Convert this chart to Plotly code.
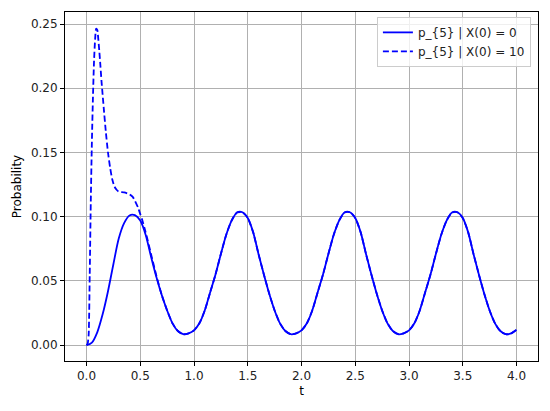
import plotly.graph_objects as go

# ---- data ----
t_solid = [round(i * 0.05, 2) for i in range(81)]
p_solid = [
    0.0, 0.002, 0.010, 0.024, 0.042, 0.063, 0.083, 0.095, 0.1010, 0.1012,
    0.097, 0.086, 0.069, 0.053, 0.039, 0.027, 0.017, 0.011, 0.0085, 0.0092,
    0.0115, 0.017, 0.027, 0.041, 0.055, 0.071, 0.086, 0.097, 0.1033, 0.1035,
    0.099, 0.088, 0.071, 0.055, 0.040, 0.027, 0.017, 0.011, 0.0085, 0.0092,
    0.0115, 0.017, 0.027, 0.041, 0.055, 0.071, 0.086, 0.097, 0.1033, 0.1035,
    0.099, 0.088, 0.071, 0.055, 0.040, 0.027, 0.017, 0.011, 0.0085, 0.0092,
    0.0115, 0.017, 0.027, 0.041, 0.055, 0.071, 0.086, 0.097, 0.1033, 0.1035,
    0.099, 0.088, 0.071, 0.055, 0.040, 0.027, 0.017, 0.011, 0.0085, 0.0092,
    0.0120,
]

t_dash_early = [0.0, 0.01, 0.02, 0.03, 0.04, 0.05, 0.06, 0.07, 0.08, 0.09,
                0.10, 0.11, 0.12, 0.13, 0.14, 0.15, 0.16, 0.18, 0.20, 0.22,
                0.24, 0.26, 0.28, 0.30, 0.35, 0.40, 0.43, 0.45, 0.48, 0.50,
                0.52, 0.55, 0.60, 0.65]
p_dash_early = [0.0, 0.001, 0.008, 0.055, 0.112, 0.158, 0.193, 0.221, 0.238, 0.2465,
                0.2455, 0.238, 0.228, 0.217, 0.205, 0.195, 0.185, 0.166, 0.150, 0.138,
                0.129, 0.1235, 0.121, 0.1195, 0.119, 0.1175, 0.1155, 0.1125, 0.107, 0.102,
                0.097, 0.088, 0.071, 0.054]

# after t = 0.65 the dashed curve coincides with the solid one
t_dash = t_dash_early + [t for t in t_solid if t > 0.66]
p_dash = p_dash_early + [p for t, p in zip(t_solid, p_solid) if t > 0.66]

x_ticks = [0.0, 0.5, 1.0, 1.5, 2.0, 2.5, 3.0, 3.5, 4.0]
y_ticks = [0.00, 0.05, 0.10, 0.15, 0.20, 0.25]

label_solid = "p_{5} | X(0) = 0"
label_dash = "p_{5} | X(0) = 10"

fig = go.Figure()
fig.add_trace(go.Scatter(x=t_solid, y=p_solid, mode="lines", name=label_solid,
                         line=dict(color="#0000ff", width=1.8, shape="spline", smoothing=0.8)))
fig.add_trace(go.Scatter(x=t_dash, y=p_dash, mode="lines", name=label_dash,
                         line=dict(color="#0000ff", width=1.8, dash="6px,3px",
                                   shape="spline", smoothing=0.6)))

axis_common = dict(
    showline=True, mirror=True, linecolor="black", linewidth=1,
    ticks="outside", ticklen=4, tickcolor="black", tickwidth=1,
    showgrid=True, gridcolor="#b0b0b0", gridwidth=0.8, zeroline=False,
    automargin=False,
    tickfont=dict(family="DejaVu Sans", size=12, color="#222"),
)

# the page body adds an 8px offset, so the figure is 8px smaller each way
fig.update_layout(
    width=542, height=403,
    margin=dict(l=57, r=12, t=4, b=50),
    paper_bgcolor="white", plot_bgcolor="white",
    font=dict(family="DejaVu Sans", size=12, color="black"),
    showlegend=True,
    legend=dict(x=0.985, y=0.986, xanchor="right", yanchor="top",
                bgcolor="rgba(255,255,255,0.8)", bordercolor="#cccccc", borderwidth=1,
                font=dict(family="DejaVu Sans", size=12, color="#222"),
                tracegroupgap=0),
    xaxis=dict(axis_common, range=[-0.2, 4.2], tickvals=x_ticks,
               ticktext=[f"{v:.1f}" for v in x_ticks],
               title=dict(text="t", font=dict(size=12), standoff=4)),
    yaxis=dict(axis_common, range=[-0.01235, 0.2594], tickvals=y_ticks,
               ticktext=[f"{v:.2f}" for v in y_ticks],
               title=dict(text="Probability", font=dict(size=12), standoff=6)),
)

fig.write_html("out.html")
